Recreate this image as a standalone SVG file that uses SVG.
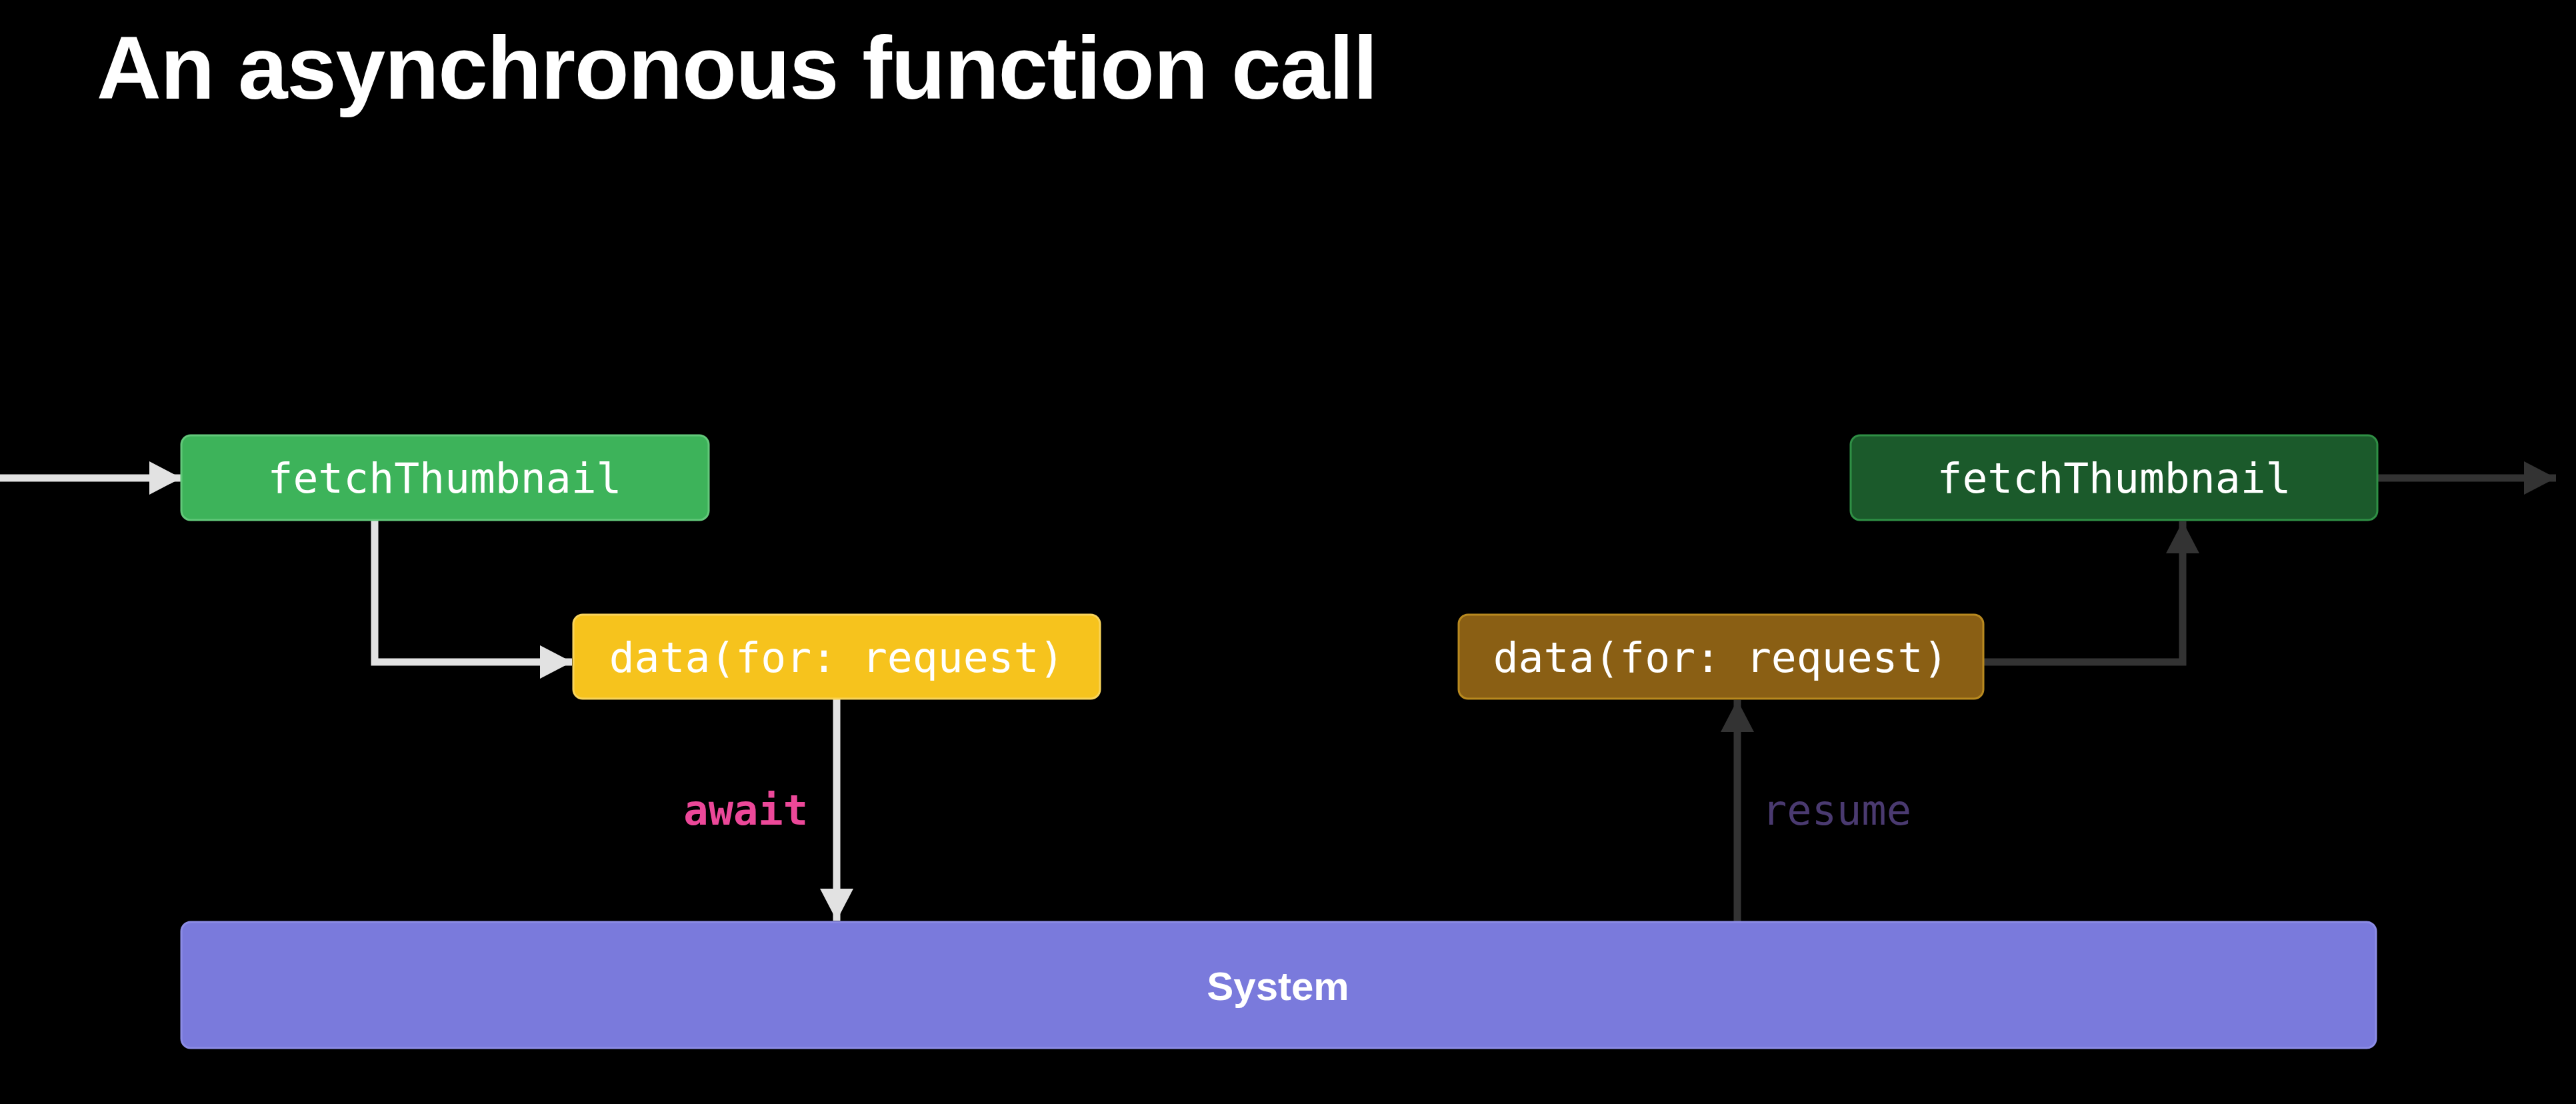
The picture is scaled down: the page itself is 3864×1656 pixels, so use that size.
<svg xmlns="http://www.w3.org/2000/svg" width="3864" height="1656" viewBox="0 0 3864 1656">
<style>
.code{font-family:"DejaVu Sans Mono","Liberation Mono",monospace;font-size:63px;fill:#ffffff;text-anchor:middle}
.title{font-family:"Liberation Sans",Arial,sans-serif;font-weight:bold;font-size:134px;fill:#ffffff;letter-spacing:-1.3px}
.sys{font-family:"Liberation Sans",Arial,sans-serif;font-weight:bold;font-size:60px;fill:#ffffff;text-anchor:middle}
.lbl{font-family:"DejaVu Sans Mono","Liberation Mono",monospace;font-size:62px}
.light{fill:none;stroke:#e2e2e2;stroke-width:11}
.dark{fill:none;stroke:#333333;stroke-width:11}
</style>
<defs>
<marker id="headL" viewBox="0 0 48 50" refX="48" refY="25" markerWidth="48" markerHeight="50" markerUnits="userSpaceOnUse" orient="auto">
<path d="M0,0 L48,25 L0,50 Z" fill="#e2e2e2"/>
</marker>
<marker id="headD" viewBox="0 0 48 50" refX="48" refY="25" markerWidth="48" markerHeight="50" markerUnits="userSpaceOnUse" orient="auto">
<path d="M0,0 L48,25 L0,50 Z" fill="#333333"/>
</marker>
</defs>
<rect x="0" y="0" width="3864" height="1656" fill="#000000"/>
<text class="title" x="145" y="148">An asynchronous function call</text>

<g id="connectors">
<path class="light" d="M0,717 L272,717" marker-end="url(#headL)"/>
<path class="light" d="M562,780 L562,993 L858,993" marker-end="url(#headL)"/>
<path class="light" d="M1255,1048 L1255,1381" marker-end="url(#headL)"/>
<path class="dark" d="M2606,1382 L2606,1050" marker-end="url(#headD)"/>
<path class="dark" d="M2975,993 L3274,993 L3274,782" marker-end="url(#headD)"/>
<path class="dark" d="M3566,717 L3834,717" marker-end="url(#headD)"/>
<text class="lbl" x="1212" y="1237" text-anchor="end" font-weight="bold" fill="#ec4899">await</text>
<text class="lbl" x="2643" y="1237" fill="#4a3a70">resume</text>
</g>

<g id="fetchThumbnail-start">
<rect x="272" y="653" width="791" height="127" rx="14" fill="#3db35a" stroke="#62c87a" stroke-width="3"/>
<text class="code" x="667" y="739">fetchThumbnail</text>
</g>
<g id="data-request-start">
<rect x="860" y="922" width="790" height="126" rx="14" fill="#f6c31d" stroke="#f9d45a" stroke-width="3"/>
<text class="code" x="1255" y="1008">data(for: request)</text>
</g>
<g id="data-request-resume">
<rect x="2188" y="922" width="787" height="126" rx="14" fill="#8a5f14" stroke="#b8891f" stroke-width="3"/>
<text class="code" x="2581" y="1008">data(for: request)</text>
</g>
<g id="fetchThumbnail-end">
<rect x="2776" y="653" width="790" height="127" rx="14" fill="#1b5a2b" stroke="#2f8f45" stroke-width="3"/>
<text class="code" x="3171" y="739">fetchThumbnail</text>
</g>
<g id="system">
<rect x="272" y="1383" width="3292" height="189" rx="14" fill="#7a7adc" stroke="#8c8ce6" stroke-width="3"/>
<text class="sys" x="1917" y="1500">System</text>
</g>
</svg>
